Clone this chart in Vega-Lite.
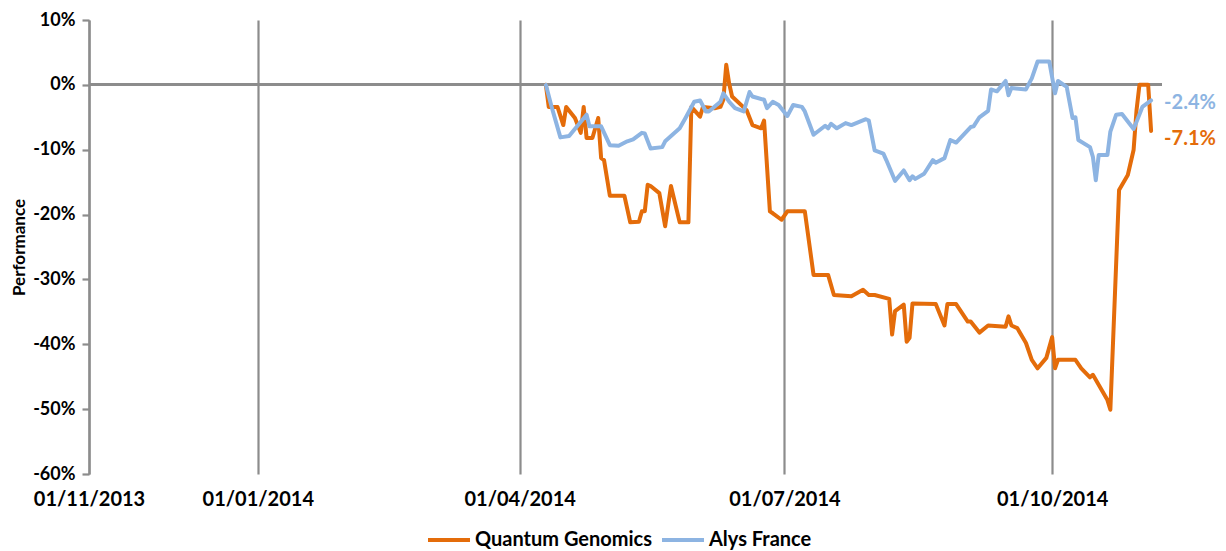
{
  "$schema": "https://vega.github.io/schema/vega-lite/v6.json",
  "width": 1073,
  "height": 454,
  "autosize": {"type": "none"},
  "padding": {"left": 89, "top": 20, "right": 64, "bottom": 77},
  "background": "white",
  "config": {
    "font": "Lato",
    "view": {"stroke": null},
    "axis": {"labelFont": "Lato", "titleFont": "Lato"},
    "legend": {"labelFont": "Lato"}
  },
  "datasets": {
    "series": [
      {"date": "2014-04-10", "value": 0, "series": "Quantum Genomics"},
      {"date": "2014-04-11", "value": -3.4, "series": "Quantum Genomics"},
      {"date": "2014-04-14", "value": -3.4, "series": "Quantum Genomics"},
      {"date": "2014-04-16", "value": -6.2, "series": "Quantum Genomics"},
      {"date": "2014-04-17", "value": -3.4, "series": "Quantum Genomics"},
      {"date": "2014-04-20", "value": -5.1, "series": "Quantum Genomics"},
      {"date": "2014-04-22", "value": -7.4, "series": "Quantum Genomics"},
      {"date": "2014-04-23", "value": -3.4, "series": "Quantum Genomics"},
      {"date": "2014-04-24", "value": -8.2, "series": "Quantum Genomics"},
      {"date": "2014-04-26", "value": -8.2, "series": "Quantum Genomics"},
      {"date": "2014-04-28", "value": -5.1, "series": "Quantum Genomics"},
      {"date": "2014-04-29", "value": -11.3, "series": "Quantum Genomics"},
      {"date": "2014-04-30", "value": -11.6, "series": "Quantum Genomics"},
      {"date": "2014-05-02", "value": -17.1, "series": "Quantum Genomics"},
      {"date": "2014-05-07", "value": -17.1, "series": "Quantum Genomics"},
      {"date": "2014-05-09", "value": -21.2, "series": "Quantum Genomics"},
      {"date": "2014-05-12", "value": -21.1, "series": "Quantum Genomics"},
      {"date": "2014-05-13", "value": -19.5, "series": "Quantum Genomics"},
      {"date": "2014-05-14", "value": -19.5, "series": "Quantum Genomics"},
      {"date": "2014-05-15", "value": -15.4, "series": "Quantum Genomics"},
      {"date": "2014-05-16", "value": -15.6, "series": "Quantum Genomics"},
      {"date": "2014-05-19", "value": -16.7, "series": "Quantum Genomics"},
      {"date": "2014-05-21", "value": -21.8, "series": "Quantum Genomics"},
      {"date": "2014-05-23", "value": -15.6, "series": "Quantum Genomics"},
      {"date": "2014-05-26", "value": -21.2, "series": "Quantum Genomics"},
      {"date": "2014-05-29", "value": -21.2, "series": "Quantum Genomics"},
      {"date": "2014-05-30", "value": -3.4, "series": "Quantum Genomics"},
      {"date": "2014-06-02", "value": -4.9, "series": "Quantum Genomics"},
      {"date": "2014-06-03", "value": -3.4, "series": "Quantum Genomics"},
      {"date": "2014-06-07", "value": -3.6, "series": "Quantum Genomics"},
      {"date": "2014-06-09", "value": -3.4, "series": "Quantum Genomics"},
      {"date": "2014-06-10", "value": -2.3, "series": "Quantum Genomics"},
      {"date": "2014-06-11", "value": 3.1, "series": "Quantum Genomics"},
      {"date": "2014-06-12", "value": 0.2, "series": "Quantum Genomics"},
      {"date": "2014-06-13", "value": -1.8, "series": "Quantum Genomics"},
      {"date": "2014-06-18", "value": -3.9, "series": "Quantum Genomics"},
      {"date": "2014-06-20", "value": -6.2, "series": "Quantum Genomics"},
      {"date": "2014-06-23", "value": -6.7, "series": "Quantum Genomics"},
      {"date": "2014-06-24", "value": -5.5, "series": "Quantum Genomics"},
      {"date": "2014-06-26", "value": -19.5, "series": "Quantum Genomics"},
      {"date": "2014-06-27", "value": -19.8, "series": "Quantum Genomics"},
      {"date": "2014-06-30", "value": -20.8, "series": "Quantum Genomics"},
      {"date": "2014-07-02", "value": -19.5, "series": "Quantum Genomics"},
      {"date": "2014-07-08", "value": -19.5, "series": "Quantum Genomics"},
      {"date": "2014-07-11", "value": -29.3, "series": "Quantum Genomics"},
      {"date": "2014-07-16", "value": -29.3, "series": "Quantum Genomics"},
      {"date": "2014-07-18", "value": -32.4, "series": "Quantum Genomics"},
      {"date": "2014-07-24", "value": -32.6, "series": "Quantum Genomics"},
      {"date": "2014-07-28", "value": -31.6, "series": "Quantum Genomics"},
      {"date": "2014-07-30", "value": -32.4, "series": "Quantum Genomics"},
      {"date": "2014-08-01", "value": -32.4, "series": "Quantum Genomics"},
      {"date": "2014-08-06", "value": -33.0, "series": "Quantum Genomics"},
      {"date": "2014-08-07", "value": -38.5, "series": "Quantum Genomics"},
      {"date": "2014-08-08", "value": -34.9, "series": "Quantum Genomics"},
      {"date": "2014-08-11", "value": -33.9, "series": "Quantum Genomics"},
      {"date": "2014-08-12", "value": -39.6, "series": "Quantum Genomics"},
      {"date": "2014-08-13", "value": -39.0, "series": "Quantum Genomics"},
      {"date": "2014-08-14", "value": -33.7, "series": "Quantum Genomics"},
      {"date": "2014-08-22", "value": -33.8, "series": "Quantum Genomics"},
      {"date": "2014-08-25", "value": -37.1, "series": "Quantum Genomics"},
      {"date": "2014-08-26", "value": -33.8, "series": "Quantum Genomics"},
      {"date": "2014-08-29", "value": -33.8, "series": "Quantum Genomics"},
      {"date": "2014-09-02", "value": -36.5, "series": "Quantum Genomics"},
      {"date": "2014-09-03", "value": -36.5, "series": "Quantum Genomics"},
      {"date": "2014-09-06", "value": -38.2, "series": "Quantum Genomics"},
      {"date": "2014-09-09", "value": -37.1, "series": "Quantum Genomics"},
      {"date": "2014-09-15", "value": -37.3, "series": "Quantum Genomics"},
      {"date": "2014-09-16", "value": -35.7, "series": "Quantum Genomics"},
      {"date": "2014-09-17", "value": -37.1, "series": "Quantum Genomics"},
      {"date": "2014-09-19", "value": -37.5, "series": "Quantum Genomics"},
      {"date": "2014-09-22", "value": -39.8, "series": "Quantum Genomics"},
      {"date": "2014-09-24", "value": -42.4, "series": "Quantum Genomics"},
      {"date": "2014-09-26", "value": -43.7, "series": "Quantum Genomics"},
      {"date": "2014-09-29", "value": -42.1, "series": "Quantum Genomics"},
      {"date": "2014-10-01", "value": -38.9, "series": "Quantum Genomics"},
      {"date": "2014-10-02", "value": -43.7, "series": "Quantum Genomics"},
      {"date": "2014-10-03", "value": -42.4, "series": "Quantum Genomics"},
      {"date": "2014-10-09", "value": -42.4, "series": "Quantum Genomics"},
      {"date": "2014-10-11", "value": -43.7, "series": "Quantum Genomics"},
      {"date": "2014-10-14", "value": -45.1, "series": "Quantum Genomics"},
      {"date": "2014-10-15", "value": -44.7, "series": "Quantum Genomics"},
      {"date": "2014-10-20", "value": -48.6, "series": "Quantum Genomics"},
      {"date": "2014-10-21", "value": -50.1, "series": "Quantum Genomics"},
      {"date": "2014-10-24", "value": -16.2, "series": "Quantum Genomics"},
      {"date": "2014-10-27", "value": -13.9, "series": "Quantum Genomics"},
      {"date": "2014-10-29", "value": -10.0, "series": "Quantum Genomics"},
      {"date": "2014-10-30", "value": -3.9, "series": "Quantum Genomics"},
      {"date": "2014-10-31", "value": 0, "series": "Quantum Genomics"},
      {"date": "2014-11-03", "value": 0, "series": "Quantum Genomics"},
      {"date": "2014-11-04", "value": -7.1, "series": "Quantum Genomics"},
      {"date": "2014-04-10", "value": 0, "series": "Alys France"},
      {"date": "2014-04-12", "value": -3.4, "series": "Alys France"},
      {"date": "2014-04-15", "value": -8.1, "series": "Alys France"},
      {"date": "2014-04-18", "value": -7.9, "series": "Alys France"},
      {"date": "2014-04-24", "value": -4.6, "series": "Alys France"},
      {"date": "2014-04-25", "value": -6.4, "series": "Alys France"},
      {"date": "2014-04-29", "value": -6.4, "series": "Alys France"},
      {"date": "2014-05-02", "value": -9.3, "series": "Alys France"},
      {"date": "2014-05-05", "value": -9.4, "series": "Alys France"},
      {"date": "2014-05-08", "value": -8.7, "series": "Alys France"},
      {"date": "2014-05-10", "value": -8.4, "series": "Alys France"},
      {"date": "2014-05-13", "value": -7.4, "series": "Alys France"},
      {"date": "2014-05-14", "value": -7.5, "series": "Alys France"},
      {"date": "2014-05-16", "value": -9.8, "series": "Alys France"},
      {"date": "2014-05-20", "value": -9.6, "series": "Alys France"},
      {"date": "2014-05-21", "value": -8.7, "series": "Alys France"},
      {"date": "2014-05-26", "value": -6.7, "series": "Alys France"},
      {"date": "2014-05-28", "value": -5.1, "series": "Alys France"},
      {"date": "2014-05-31", "value": -2.6, "series": "Alys France"},
      {"date": "2014-06-02", "value": -2.4, "series": "Alys France"},
      {"date": "2014-06-04", "value": -4.1, "series": "Alys France"},
      {"date": "2014-06-05", "value": -4.1, "series": "Alys France"},
      {"date": "2014-06-09", "value": -2.6, "series": "Alys France"},
      {"date": "2014-06-10", "value": -1.3, "series": "Alys France"},
      {"date": "2014-06-12", "value": -2.6, "series": "Alys France"},
      {"date": "2014-06-14", "value": -3.6, "series": "Alys France"},
      {"date": "2014-06-17", "value": -4.1, "series": "Alys France"},
      {"date": "2014-06-19", "value": -1.1, "series": "Alys France"},
      {"date": "2014-06-20", "value": -1.8, "series": "Alys France"},
      {"date": "2014-06-24", "value": -2.3, "series": "Alys France"},
      {"date": "2014-06-25", "value": -3.6, "series": "Alys France"},
      {"date": "2014-06-27", "value": -2.6, "series": "Alys France"},
      {"date": "2014-06-29", "value": -3.1, "series": "Alys France"},
      {"date": "2014-07-02", "value": -4.8, "series": "Alys France"},
      {"date": "2014-07-04", "value": -3.1, "series": "Alys France"},
      {"date": "2014-07-07", "value": -3.4, "series": "Alys France"},
      {"date": "2014-07-08", "value": -4.1, "series": "Alys France"},
      {"date": "2014-07-11", "value": -7.7, "series": "Alys France"},
      {"date": "2014-07-15", "value": -6.3, "series": "Alys France"},
      {"date": "2014-07-16", "value": -6.7, "series": "Alys France"},
      {"date": "2014-07-17", "value": -6.0, "series": "Alys France"},
      {"date": "2014-07-19", "value": -6.7, "series": "Alys France"},
      {"date": "2014-07-22", "value": -5.9, "series": "Alys France"},
      {"date": "2014-07-24", "value": -6.2, "series": "Alys France"},
      {"date": "2014-07-29", "value": -5.3, "series": "Alys France"},
      {"date": "2014-07-30", "value": -5.5, "series": "Alys France"},
      {"date": "2014-08-01", "value": -10.1, "series": "Alys France"},
      {"date": "2014-08-04", "value": -10.6, "series": "Alys France"},
      {"date": "2014-08-05", "value": -11.6, "series": "Alys France"},
      {"date": "2014-08-08", "value": -14.8, "series": "Alys France"},
      {"date": "2014-08-11", "value": -13.2, "series": "Alys France"},
      {"date": "2014-08-13", "value": -14.7, "series": "Alys France"},
      {"date": "2014-08-14", "value": -14.1, "series": "Alys France"},
      {"date": "2014-08-15", "value": -14.5, "series": "Alys France"},
      {"date": "2014-08-18", "value": -13.7, "series": "Alys France"},
      {"date": "2014-08-21", "value": -11.6, "series": "Alys France"},
      {"date": "2014-08-22", "value": -12.0, "series": "Alys France"},
      {"date": "2014-08-25", "value": -11.3, "series": "Alys France"},
      {"date": "2014-08-27", "value": -8.5, "series": "Alys France"},
      {"date": "2014-08-29", "value": -8.9, "series": "Alys France"},
      {"date": "2014-09-03", "value": -6.5, "series": "Alys France"},
      {"date": "2014-09-04", "value": -6.4, "series": "Alys France"},
      {"date": "2014-09-06", "value": -5.0, "series": "Alys France"},
      {"date": "2014-09-09", "value": -4.0, "series": "Alys France"},
      {"date": "2014-09-10", "value": -0.7, "series": "Alys France"},
      {"date": "2014-09-12", "value": -1.0, "series": "Alys France"},
      {"date": "2014-09-15", "value": 0.6, "series": "Alys France"},
      {"date": "2014-09-16", "value": -1.6, "series": "Alys France"},
      {"date": "2014-09-17", "value": -0.5, "series": "Alys France"},
      {"date": "2014-09-22", "value": -0.7, "series": "Alys France"},
      {"date": "2014-09-24", "value": 1.0, "series": "Alys France"},
      {"date": "2014-09-26", "value": 3.6, "series": "Alys France"},
      {"date": "2014-09-30", "value": 3.6, "series": "Alys France"},
      {"date": "2014-10-02", "value": -1.3, "series": "Alys France"},
      {"date": "2014-10-03", "value": 0.6, "series": "Alys France"},
      {"date": "2014-10-06", "value": -0.3, "series": "Alys France"},
      {"date": "2014-10-08", "value": -5.1, "series": "Alys France"},
      {"date": "2014-10-09", "value": -5.0, "series": "Alys France"},
      {"date": "2014-10-10", "value": -8.5, "series": "Alys France"},
      {"date": "2014-10-14", "value": -9.6, "series": "Alys France"},
      {"date": "2014-10-15", "value": -11.1, "series": "Alys France"},
      {"date": "2014-10-16", "value": -14.7, "series": "Alys France"},
      {"date": "2014-10-17", "value": -10.8, "series": "Alys France"},
      {"date": "2014-10-20", "value": -10.8, "series": "Alys France"},
      {"date": "2014-10-21", "value": -7.2, "series": "Alys France"},
      {"date": "2014-10-23", "value": -4.6, "series": "Alys France"},
      {"date": "2014-10-25", "value": -4.5, "series": "Alys France"},
      {"date": "2014-10-29", "value": -6.8, "series": "Alys France"},
      {"date": "2014-10-30", "value": -5.7, "series": "Alys France"},
      {"date": "2014-11-01", "value": -3.4, "series": "Alys France"},
      {"date": "2014-11-04", "value": -2.4, "series": "Alys France"}
    ],
    "endlabels": [
      {"date": "2014-11-04", "value": -2.4, "label": "-2.4%", "series": "Alys France"},
      {"date": "2014-11-04", "value": -7.1, "label": "-7.1%", "series": "Quantum Genomics"}
    ]
  },
  "layer": [
    {
      "data": {"name": "series"},
      "mark": {"type": "rule", "color": "#8c8c8c", "strokeWidth": 2.5},
      "encoding": {"y": {"datum": 0, "type": "quantitative"}}
    },
    {
      "data": {"name": "series"},
      "mark": {"type": "line", "strokeWidth": 4, "strokeJoin": "round", "strokeCap": "round"},
      "encoding": {
        "x": {
          "field": "date",
          "type": "temporal",
          "scale": {
            "type": "utc",
            "domain": [
              {"year": 2013, "month": 11, "date": 4, "utc": true},
              {"year": 2014, "month": 11, "date": 7, "hours": 18, "utc": true}
            ]
          },
          "axis": {
            "title": null,
            "values": [
              {"year": 2013, "month": 11, "date": 4, "utc": true},
              {"year": 2014, "month": 1, "date": 1, "utc": true},
              {"year": 2014, "month": 4, "date": 1, "utc": true},
              {"year": 2014, "month": 7, "date": 1, "utc": true},
              {"year": 2014, "month": 10, "date": 1, "utc": true}
            ],
            "labelExpr": "utcyear(datum.value) === 2013 ? '01/11/2013' : utcFormat(datum.value, '%d/%m/%Y')",
            "domain": false,
            "ticks": false,
            "grid": true,
            "gridColor": "#8c8c8c",
            "gridWidth": 2.2,
            "labelFontSize": 20,
            "labelFontWeight": "bold",
            "labelColor": "#000000",
            "labelPadding": 15,
            "labelFlush": false,
            "labelOverlap": false
          }
        },
        "y": {
          "field": "value",
          "type": "quantitative",
          "scale": {"domain": [-60, 10], "nice": false, "zero": false},
          "axis": {
            "title": "Performance",
            "titleFontSize": 17,
            "titleFontWeight": "bold",
            "titleColor": "#000000",
            "titlePadding": 4,
            "values": [-60, -50, -40, -30, -20, -10, 0, 10],
            "labelExpr": "datum.value + '%'",
            "labelFontSize": 18,
            "labelFontWeight": "bold",
            "labelColor": "#000000",
            "labelPadding": 7,
            "grid": false,
            "domainColor": "#8c8c8c",
            "domainWidth": 2.2,
            "tickColor": "#8c8c8c",
            "tickWidth": 2.2,
            "tickSize": 7
          }
        },
        "color": {
          "field": "series",
          "type": "nominal",
          "scale": {"domain": ["Quantum Genomics", "Alys France"], "range": ["#E46C0A", "#8DB4E2"]},
          "legend": {
            "title": null,
            "orient": "none",
            "direction": "horizontal",
            "legendX": 337,
            "legendY": 497,
            "symbolType": "stroke",
            "symbolSize": 1764,
            "symbolStrokeWidth": 4,
            "labelFontSize": 20,
            "labelFontWeight": "bold",
            "labelColor": "#000000",
            "labelLimit": 400,
            "labelOffset": 3,
            "columnPadding": 1
          }
        },
        "order": {"field": "date", "type": "temporal"}
      }
    },
    {
      "data": {"name": "endlabels"},
      "transform": [{"filter": "datum.series === 'Alys France'"}],
      "mark": {"type": "text", "align": "left", "baseline": "middle", "dx": 13, "dy": 3, "fontSize": 20, "fontWeight": "bold"},
      "encoding": {
        "x": {"field": "date", "type": "temporal"},
        "y": {"field": "value", "type": "quantitative"},
        "text": {"field": "label"},
        "color": {"field": "series", "type": "nominal", "legend": null}
      }
    },
    {
      "data": {"name": "endlabels"},
      "transform": [{"filter": "datum.series === 'Quantum Genomics'"}],
      "mark": {"type": "text", "align": "left", "baseline": "middle", "dx": 13, "dy": 8.5, "fontSize": 20, "fontWeight": "bold"},
      "encoding": {
        "x": {"field": "date", "type": "temporal"},
        "y": {"field": "value", "type": "quantitative"},
        "text": {"field": "label"},
        "color": {"field": "series", "type": "nominal", "legend": null}
      }
    }
  ]
}
